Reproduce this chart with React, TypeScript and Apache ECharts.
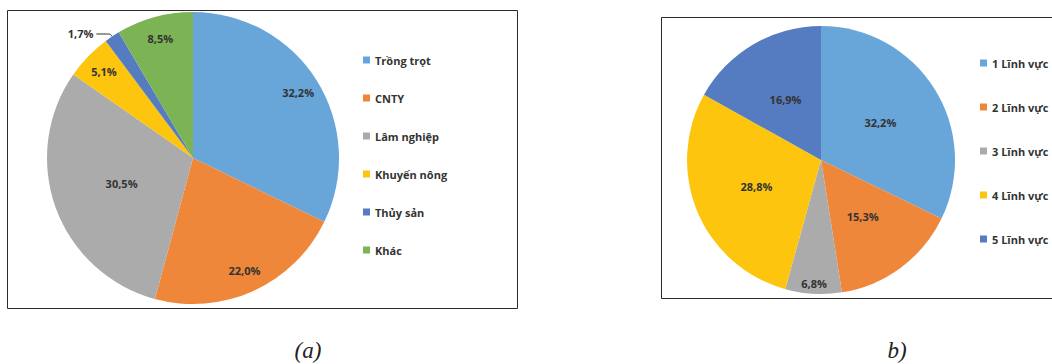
import React, { useEffect, useRef } from "react";
import * as echarts from "echarts";

// ---- data ----
const leftCategories = ["Trồng trọt", "CNTY", "Lâm nghiệp", "Khuyến nông", "Thủy sản", "Khác"];
const leftValues = [32.2, 22.0, 30.5, 5.1, 1.7, 8.5];
const leftColors = ["#68A6D9", "#EF873B", "#ABABAB", "#FEC50F", "#557BC0", "#7CB354"];

const rightCategories = ["1 Lĩnh vực", "2 Lĩnh vực", "3 Lĩnh vực", "4 Lĩnh vực", "5 Lĩnh vực"];
const rightValues = [32.2, 15.3, 6.8, 28.8, 16.9];
const rightColors = ["#68A6D9", "#EF873B", "#ABABAB", "#FEC50F", "#557BC0"];

const captions = ["(a)", "b)"];

// label placement groups (indices)
const leftCenterLabelIdx = [2]; // label at half radius
const leftOutsideLabelIdx = [4]; // label outside with leader line
const rightOuterLabelIdx = [2]; // label near the rim

const FONT = "'Open Sans', Lato, sans-serif";
const TXT = "#333333";

const fmt = (v: number) => v.toFixed(1).replace(".", ",") + "%";

export default function App() {
  const ref = useRef<HTMLDivElement>(null);

  useEffect(() => {
    document.body.style.margin = "0";
    if (!ref.current) return;
    const chart = echarts.init(ref.current, undefined, { renderer: "svg" });

    const labelBase = {
      color: TXT,
      fontFamily: FONT,
      fontWeight: "bold" as const,
      fontSize: 11,
      formatter: (p: any) => fmt(p.value),
    };

    const leftMain = {
      type: "pie",
      name: "left",
      center: [193, 158],
      radius: [0, 146],
      startAngle: 90,
      silent: true,
      animation: false,
      label: { ...labelBase, show: false, position: "inside" },
      labelLine: { show: false },
      data: leftValues.map((v, i) => {
        const item: any = { name: leftCategories[i], value: v, itemStyle: { color: leftColors[i] } };
        if (leftCenterLabelIdx.includes(i)) {
          item.label = { show: true, position: "inside" };
        } else if (leftOutsideLabelIdx.includes(i)) {
          item.label = { show: true, position: "outside", distanceToLabelLine: 3 };
          item.labelLine = {
            show: true,
            length: 3,
            length2: 14,
            smooth: 0.3,
            lineStyle: { color: "#262626", width: 1 },
          };
        }
        return item;
      }),
    };
    const leftOverlay = {
      type: "pie",
      name: "leftOverlay",
      center: [193, 158],
      radius: [96, 146],
      startAngle: 90,
      silent: true,
      animation: false,
      itemStyle: { color: "rgba(0,0,0,0)" },
      label: { ...labelBase, show: true, position: "inside" },
      labelLine: { show: false },
      data: leftValues.map((v, i) => {
        const item: any = { name: leftCategories[i], value: v };
        if (leftCenterLabelIdx.includes(i) || leftOutsideLabelIdx.includes(i)) {
          item.label = { show: false };
        }
        return item;
      }),
    };

    const rightMain = {
      type: "pie",
      name: "right",
      center: [821, 160],
      radius: [0, 134],
      startAngle: 90,
      silent: true,
      animation: false,
      label: { ...labelBase, show: true, position: "inside" },
      labelLine: { show: false },
      data: rightValues.map((v, i) => {
        const item: any = { name: rightCategories[i], value: v, itemStyle: { color: rightColors[i] } };
        if (rightOuterLabelIdx.includes(i)) item.label = { show: false };
        return item;
      }),
    };
    const rightOverlay = {
      type: "pie",
      name: "rightOverlay",
      center: [821, 160],
      radius: [107, 134],
      startAngle: 90,
      silent: true,
      animation: false,
      itemStyle: { color: "rgba(0,0,0,0)" },
      label: { ...labelBase, show: true, position: "inside" },
      labelLine: { show: false },
      data: rightValues.map((v, i) => {
        const item: any = { name: rightCategories[i], value: v };
        if (!rightOuterLabelIdx.includes(i)) item.label = { show: false };
        return item;
      }),
    };

    const legendText = { color: TXT, fontFamily: FONT, fontWeight: "bold" as const, fontSize: 11, lineHeight: 14 };

    chart.setOption({
      animation: false,
      legend: [
        {
          data: leftCategories,
          orient: "vertical",
          left: 358,
          top: 48,
          icon: "rect",
          itemWidth: 7,
          itemHeight: 7,
          itemGap: 24,
          selectedMode: false,
          textStyle: legendText,
        },
        {
          data: rightCategories,
          orient: "vertical",
          left: 975,
          top: 51,
          icon: "rect",
          itemWidth: 7,
          itemHeight: 7,
          itemGap: 30,
          selectedMode: false,
          textStyle: legendText,
        },
      ],
      graphic: [
        {
          type: "rect",
          shape: { x: 7.5, y: 10.5, width: 510, height: 298 },
          style: { fill: "none", stroke: "#2b2b2b", lineWidth: 1 },
          silent: true,
          z: -1,
        },
        {
          type: "rect",
          shape: { x: 661.5, y: 17.5, width: 420, height: 281 },
          style: { fill: "none", stroke: "#2b2b2b", lineWidth: 1 },
          silent: true,
          z: -1,
        },
        {
          type: "text",
          x: 308,
          y: 350,
          style: {
            text: captions[0],
            font: "italic 23px 'Liberation Serif', 'DejaVu Serif', serif",
            fill: "#222",
            align: "center",
            verticalAlign: "middle",
          },
        },
        {
          type: "text",
          x: 897,
          y: 350,
          style: {
            text: captions[1],
            font: "italic 23px 'Liberation Serif', 'DejaVu Serif', serif",
            fill: "#222",
            align: "center",
            verticalAlign: "middle",
          },
        },
      ],
      series: [leftMain, rightMain, leftOverlay, rightOverlay],
    });

    return () => chart.dispose();
  }, []);

  return <div ref={ref} style={{ width: 1052, height: 364, background: "#fff" }} />;
}
